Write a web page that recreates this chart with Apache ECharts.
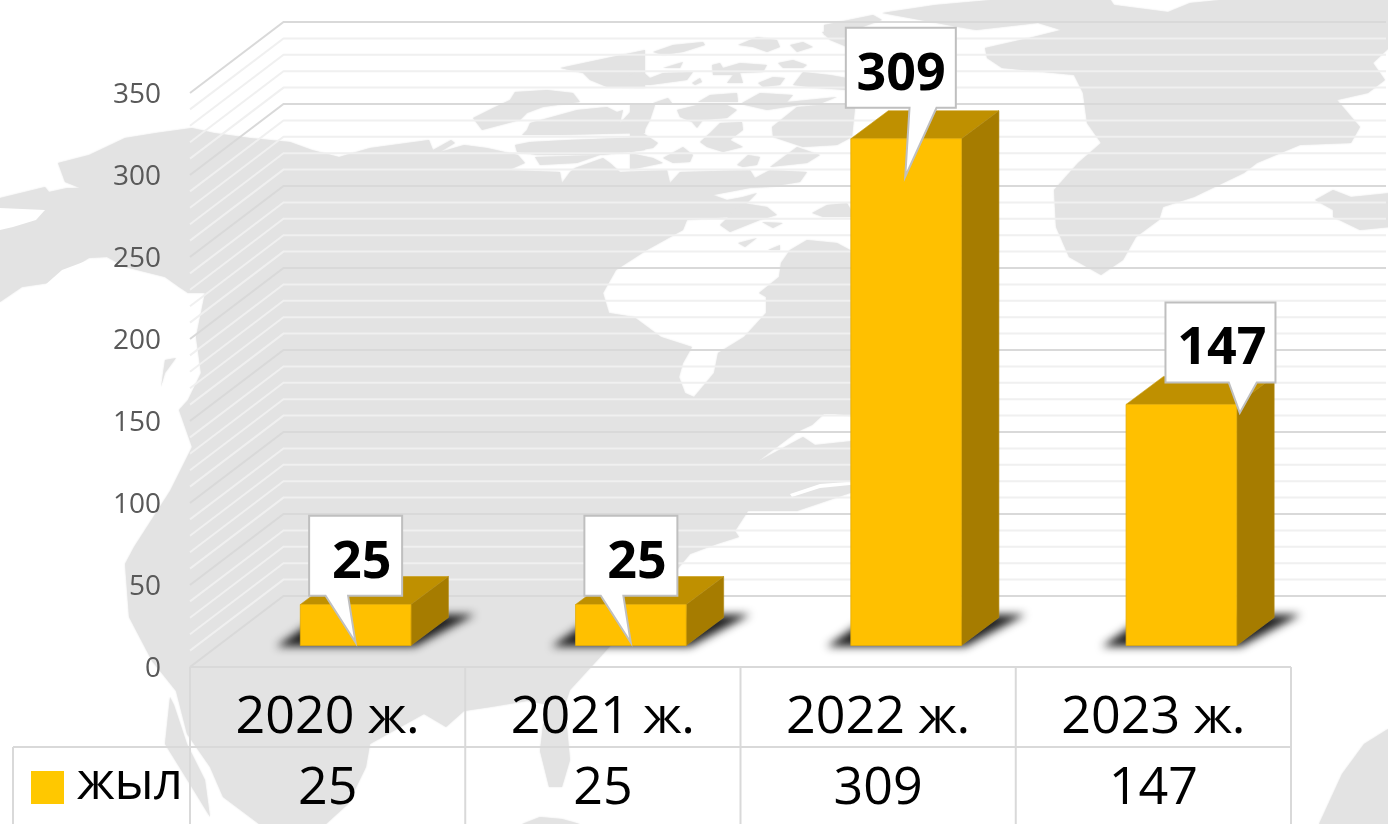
<!DOCTYPE html>
<html>
<head>
<meta charset="utf-8">
<style>html,body{margin:0;padding:0;background:#fff}#c{width:1388px;height:824px}</style>
<script src="https://cdn.jsdelivr.net/npm/echarts@6/dist/echarts.min.js"></script>
</head>
<body>
<div id="c"></div>
<script>
const categories = ['2020 ж.', '2021 ж.', '2022 ж.', '2023 ж.'];
const seriesName = 'жыл';
const seriesValues = [25, 25, 309, 147];
const axisTicks = [0, 50, 100, 150, 200, 250, 300, 350];
const minorGridValues = [10,20,30,40,60,70,80,90,110,120,130,140,160,170,180,190,210,220,230,240,260,270,280,290,310,320,330,340];

// callout placement relative to the bar's front-top-left corner: [rect dx, rect width, rect bottom dy, tail a dx, tail b dx, tip dx, tip dy, text dx]
const calloutLayout = [
  [8.8, 93, -8.7, 25.2, 47.8, 55.2, 38, 61.5],
  [8.8, 93, -8.7, 25.2, 47.8, 55.2, 38, 61.5],
  [-5, 110, -31, 58.7, 85.7, 54.4, 38, 50.2],
  [39.4, 110, -22, 102.7, 130.7, 113.7, 8.5, 95.7]
];

// decorative world-map backdrop
const mapLand = [
 // main continent
 [[0,198],[45,187],[49,192],[67,188],[80,188],[65,182],[58,163],[89,155],[125,138],[156,133],[192,128],[214,133],[250,138],[290,142],[312,150],[339,157],[370,148],[429,140],[433,150],[451,140],[455,143],[440,152],[464,145],[487,148],[518,155],[525,163],[509,170],[560,172],[562,183],[570,172],[575,168],[603,158],[610,163],[620,172],[667,170],[670,183],[680,172],[750,170],[755,178],[770,170],[807,172],[800,182],[770,187],[750,188],[713,195],[727,200],[743,197],[757,193],[743,207],[730,217],[687,220],[683,230],[647,250],[616,270],[603,293],[609,313],[634,317],[661,337],[692,347],[683,363],[679,377],[685,393],[694,397],[714,373],[718,353],[744,337],[766,313],[766,297],[759,293],[779,277],[781,263],[790,250],[807,240],[837,243],[850,250],[862,260],[862,417],[835,414],[824,414],[812,425],[797,432],[757,462],[803,437],[815,445],[862,440],[862,489],[797,511],[748,511],[735,531],[739,537],[717,544],[690,554],[660,590],[603,654],[570,690],[565,705],[570,760],[562,787],[549,787],[540,751],[543,725],[550,705],[527,701],[491,707],[464,711],[446,727],[424,714],[370,744],[366,767],[348,804],[326,824],[259,824],[223,797],[210,767],[187,734],[176,691],[152,661],[129,617],[125,564],[134,547],[170,491],[192,447],[179,410],[188,400],[201,373],[196,337],[205,293],[188,293],[179,287],[165,277],[125,267],[107,257],[89,258],[49,283],[22,287],[0,302]],
 // Baja, Vancouver Island, South America tip
 [[170,697],[165,744],[196,794],[210,817],[205,780],[187,744],[174,705]],
 [[161,387],[165,360],[176,358],[165,373]],
 [[522,824],[540,817],[562,819],[580,824]],
 // Arctic islands, west group
 [[473,118],[493,108],[510,100],[515,92],[547,90],[573,93],[580,102],[543,107],[527,113],[520,120],[482,130]],
 [[560,68],[607,58],[645,50],[645,88],[607,87],[590,80],[583,73]],
 [[522,135],[527,130],[530,123],[577,110],[607,107],[617,112],[623,110],[620,123],[637,105],[645,105],[645,133],[560,135]],
 [[515,145],[530,142],[567,140],[645,137],[645,150],[603,155],[537,155],[517,152]],
 [[535,157],[600,155],[577,163],[540,165]],
 // Arctic islands, east group
 [[653,52],[673,45],[703,42],[705,45],[683,52],[663,55]],
 [[738,45],[757,37],[777,40],[780,47],[767,52],[753,47]],
 [[790,45],[803,42],[813,47],[797,52]],
 [[822,32],[847,30],[847,47],[830,40]],
 [[630,75],[643,72],[650,78],[663,73],[693,72],[687,80],[650,85],[630,85]],
 [[663,68],[683,62],[680,68]],
 [[712,65],[720,63],[723,68],[740,63],[767,65],[763,72],[740,73],[743,83],[727,83],[733,75],[713,75]],
 [[778,63],[793,60],[807,65],[803,68],[783,68]],
 [[758,83],[773,77],[785,78],[780,85],[763,87]],
 [[793,85],[803,72],[830,75],[847,78],[847,90],[817,88]],
 [[692,83],[700,78],[702,82],[695,85]],
 [[698,102],[710,95],[737,93],[738,102]],
 [[653,103],[668,98],[672,103]],
 [[742,103],[760,93],[793,95],[787,102],[837,97],[817,105],[800,105],[767,110],[745,105]],
 [[772,127],[797,107],[820,105],[847,105],[855,108],[852,137],[837,145],[803,147],[773,137]],
 [[677,110],[697,105],[727,105],[737,110],[727,118],[703,120],[697,128],[692,122],[680,117]],
 [[630,105],[655,105],[650,120],[643,133],[658,143],[653,148],[630,152]],
 [[700,142],[710,133],[720,123],[742,122],[743,130],[730,140],[743,147],[723,152],[707,147]],
 [[663,158],[683,147],[693,155],[690,162],[673,163]],
 [[630,153],[653,158],[663,163],[630,170]],
 [[737,165],[748,155],[760,157],[757,165],[743,167]],
 [[770,167],[797,147],[820,155],[807,163]],
 [[720,225],[743,203],[767,207],[777,215],[760,220],[730,232]],
 [[762,222],[783,223],[773,228]],
 [[812,213],[827,205],[847,203],[855,217],[823,217]],
 [[738,243],[757,238],[745,247]],
 [[768,250],[780,245],[780,250]],
 // Greenland + upper islands
 [[882,13],[935,5],[1002,-1],[1110,-1],[1114,5],[1168,12],[1190,3],[1230,-1],[1390,-1],[1390,47],[1373,63],[1385,80],[1368,93],[1337,100],[1360,127],[1351,143],[1300,145],[1257,163],[1244,173],[1194,197],[1163,207],[1159,220],[1136,237],[1123,260],[1101,275],[1069,257],[1056,227],[1054,190],[1078,163],[1101,143],[1087,123],[1083,93],[1074,75],[1002,68],[987,58],[985,48],[1029,38],[1061,30],[1038,23],[976,30],[958,27]],
 [[824,25],[873,15],[882,20],[846,33],[824,35]],
 // Iceland / Europe edge
 [[1315,200],[1333,190],[1351,197],[1390,193],[1390,227],[1360,230],[1333,217],[1333,210]],
 [[1388,729],[1364,744],[1342,774],[1319,824],[1388,824]]
];
const mapWater = [
 [[0,208],[45,210],[36,220],[13,227],[0,230]],
 [[45,285],[62,270],[94,258],[85,263],[58,283]],
 [[790,494],[820,484],[860,481],[860,484],[820,488],[792,497]]
];

const BASE_OFFSET = 21.5;     // bars stand this far behind the front floor edge
const BAR_SHIFT = 28;         // and this far right of the category centre
const BAR_W = 110.6;
const DEPTH_X = 37.5, DEPTH_Y = 28;
const WALL_X = 93.5, WALL_Y = 71;
const WALL_RIGHT = 1386;
const LEGEND_LEFT = 13;
const ROW1 = 80;
const SHADOW_SHIFT = 3000;    // the caster sits off-canvas so only its blurred shadow shows
const FONT = '"Open Sans","Noto Sans",sans-serif';

function poly(points, style) {
  return { type: 'polygon', shape: { points }, style };
}
function gridLine(api, value, major) {
  const p = api.coord([0, value]);
  const left = p[0] - api.size([1, 0])[0] / 2;
  return {
    type: 'polyline',
    shape: { points: [[left, p[1]], [left + WALL_X, p[1] - WALL_Y], [WALL_RIGHT, p[1] - WALL_Y]] },
    style: { stroke: major ? '#d9d9d9' : '#f0f0f0', lineWidth: 2, fill: null }
  };
}

function renderBar(params, api) {
  const i = params.dataIndex;
  const top = api.coord([i, api.value(1)]);
  const bottom = api.coord([i, 0]);
  const x0 = top[0] + BAR_SHIFT - BAR_W / 2, x1 = x0 + BAR_W;
  const yT = top[1] - BASE_OFFSET, yB = bottom[1] - BASE_OFFSET;
  const dx = DEPTH_X, dy = DEPTH_Y;
  const L = calloutLayout[i];
  const rx = x0 + L[0], rw = L[1], rb = yT + L[2], rt = rb - 80;
  const S = SHADOW_SHIFT;
  const children = [
    poly([[x0 - 24 - S, yB + 1], [x1 + 4 - S, yB + 1], [x1 + 64 - S, yB - 31], [x0 + 22 - S, yB - 31]],
      { fill: '#000', shadowBlur: 9, shadowColor: 'rgba(20,20,20,0.95)', shadowOffsetX: S, shadowOffsetY: 0 }),
    poly([[x0, yT], [x1, yT], [x1 + dx, yT - dy], [x0 + dx, yT - dy]], { fill: '#BF9000', stroke: '#c79a10', lineWidth: 0.6 }),
    poly([[x1, yT], [x1 + dx, yT - dy], [x1 + dx, yB - dy], [x1, yB]], { fill: '#A67C00', stroke: '#b28a10', lineWidth: 0.6 }),
    poly([[x0, yT], [x1, yT], [x1, yB], [x0, yB]], { fill: '#FFC000', stroke: '#e3ac06', lineWidth: 0.8 }),
    poly([[rx, rt], [rx + rw, rt], [rx + rw, rb], [x0 + L[4], rb], [x0 + L[5], yT + L[6]], [x0 + L[3], rb], [rx, rb]],
      { fill: '#ffffff', stroke: '#bfbfbf', lineWidth: 2 }),
    { type: 'text', style: { x: x0 + L[7], y: (rt + rb) / 2 + 7, text: String(api.value(1)), fill: '#000',
        font: 'bold 52px ' + FONT, align: 'center', verticalAlign: 'middle' } }
  ];
  return { type: 'group', children };
}

function renderTable(params, api) {
  const band = api.size([1, 0])[0];
  const c0 = api.coord([0, 0]);
  const left = c0[0] - band / 2, yTop = c0[1], yMid = yTop + ROW1, yEnd = 830;
  const right = left + band * categories.length;
  const line = (x1, y1, x2, y2) => ({ type: 'line', shape: { x1, y1, x2, y2 }, style: { stroke: '#d9d9d9', lineWidth: 2 } });
  const kids = [line(left, yTop, right, yTop), line(LEGEND_LEFT, yMid, right, yMid), line(LEGEND_LEFT, yMid, LEGEND_LEFT, yEnd)];
  for (let k = 0; k <= categories.length; k++) kids.push(line(left + k * band, yTop, left + k * band, yEnd));
  seriesValues.forEach((v, k) => kids.push({ type: 'text', style: { x: api.coord([k, 0])[0], y: yMid + 42, text: String(v),
    fill: '#000', font: '52px ' + FONT, align: 'center', verticalAlign: 'middle' } }));
  kids.push({ type: 'rect', shape: { x: 31, y: yMid + 24, width: 33, height: 33 }, style: { fill: '#FFC800' } });
  kids.push({ type: 'text', style: { x: 77, y: yMid + 37, text: seriesName, fill: '#000', font: '51px ' + FONT, align: 'left', verticalAlign: 'middle' } });
  return { type: 'group', children: kids };
}

const chart = echarts.init(document.getElementById('c'), null, { renderer: 'canvas', width: 1388, height: 824 });
const mapGraphics = mapLand.map(points => ({ type: 'polygon', z: -20, silent: true, shape: { points }, style: { fill: '#e3e3e3', shadowBlur: 2, shadowColor: '#e3e3e3' } }))
  .concat(mapWater.map(points => ({ type: 'polygon', z: -19, silent: true, shape: { points }, style: { fill: '#ffffff' } })));

chart.setOption({
  animation: false,
  backgroundColor: '#fff',
  graphic: { elements: mapGraphics },
  grid: { left: 190, right: 97, top: 93, bottom: 157, containLabel: false },
  xAxis: {
    type: 'category', data: categories,
    axisLine: { show: false }, axisTick: { show: false }, splitLine: { show: false },
    axisLabel: { fontFamily: FONT, fontSize: 52, color: '#000', margin: 21, lineHeight: 60, interval: 0 }
  },
  yAxis: {
    type: 'value', min: axisTicks[0], max: axisTicks[axisTicks.length - 1], interval: 50,
    axisLine: { show: false }, axisTick: { show: false }, splitLine: { show: false },
    axisLabel: { margin: 29, formatter: '{t|{value}}',
      rich: { t: { fontFamily: FONT, fontSize: 28, color: '#595959', padding: [5, 0, 0, 0] } } }
  },
  series: [
    { type: 'custom', name: 'minor', silent: true, clip: false, z: 1, data: minorGridValues.map(v => [0, v]),
      renderItem: (p, api) => gridLine(api, api.value(1), false) },
    { type: 'custom', name: 'major', silent: true, clip: false, z: 2, data: axisTicks.map(v => [0, v]),
      renderItem: (p, api) => gridLine(api, api.value(1), true) },
    { type: 'custom', name: 'table', silent: true, clip: false, z: 3, data: [[0, 0]], renderItem: renderTable },
    { type: 'custom', name: seriesName, silent: true, clip: false, z: 5,
      data: seriesValues.map((v, i) => [i, v]), encode: { x: 0, y: 1 }, renderItem: renderBar }
  ]
});
</script>
</body>
</html>
